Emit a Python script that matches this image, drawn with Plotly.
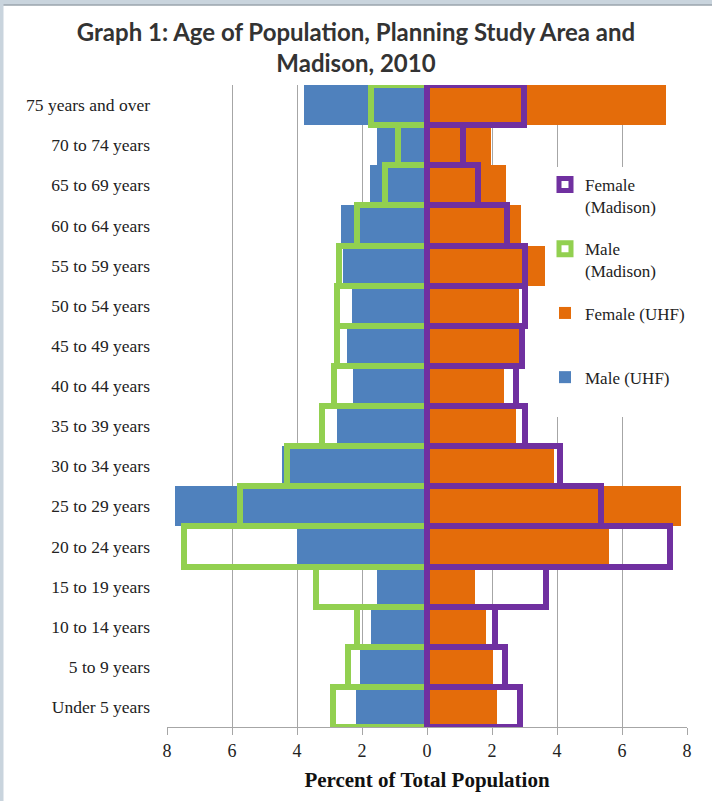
import plotly.graph_objects as go

categories = ["Under 5 years", "5 to 9 years", "10 to 14 years", "15 to 19 years",
              "20 to 24 years", "25 to 29 years", "30 to 34 years", "35 to 39 years",
              "40 to 44 years", "45 to 49 years", "50 to 54 years", "55 to 59 years",
              "60 to 64 years", "65 to 69 years", "70 to 74 years", "75 years and over"]

male_uhf = [2.20, 2.07, 1.72, 1.53, 4.00, 7.75, 4.45, 2.78, 2.27, 2.45, 2.30, 2.60, 2.64, 1.76, 1.53, 3.78]
female_uhf = [2.15, 2.02, 1.83, 1.48, 5.59, 7.80, 3.90, 2.73, 2.38, 2.84, 2.83, 3.85, 2.89, 2.42, 1.96, 7.34]
male_madison = [2.90, 2.43, 2.16, 3.43, 7.47, 5.76, 4.30, 3.22, 2.85, 2.76, 2.78, 2.71, 2.16, 1.28, 0.88, 1.72]
female_madison = [2.87, 2.39, 2.08, 3.67, 7.48, 5.36, 4.09, 3.01, 2.74, 2.92, 3.01, 3.01, 2.45, 1.58, 1.10, 2.99]

tick_vals = [-8, -6, -4, -2, 0, 2, 4, 6, 8]
tick_text = ["8", "6", "4", "2", "0", "2", "4", "6", "8"]

BLUE = "#4F81BD"
ORANGE = "#E46C0A"
GREEN = "#92D050"
PURPLE = "#7030A0"
SERIF = "Liberation Serif"
NBSP = "\u00a0"

fig = go.Figure()
fig.add_trace(go.Bar(y=categories, x=[-v for v in male_uhf], orientation="h",
                     name="Male" + NBSP + "(UHF)<br>" + NBSP, legendgroup="a", legendrank=4,
                     marker=dict(color=BLUE, line=dict(width=0))))
fig.add_trace(go.Bar(y=categories, x=female_uhf, orientation="h",
                     name="Female" + NBSP + "(UHF)<br>" + NBSP, legendgroup="b", legendrank=3,
                     marker=dict(color=ORANGE, line=dict(width=0))))
fig.add_trace(go.Bar(y=categories, x=[-v for v in male_madison], orientation="h",
                     name="Male<br>(Madison)", legendgroup="c", legendrank=2,
                     marker=dict(color="rgba(0,0,0,0)", line=dict(color=GREEN, width=6))))
fig.add_trace(go.Bar(y=categories, x=female_madison, orientation="h",
                     name="Female<br>(Madison)", legendgroup="d", legendrank=1,
                     marker=dict(color="rgba(0,0,0,0)", line=dict(color=PURPLE, width=6))))

L, R, T, B = 167, 25, 85, 74
W, H = 712, 801
pw, ph = W - L - R, H - T - B

def px_x(p):
    return (p - L) / pw

def px_y(p):
    return (H - B - p) / ph

fig.update_layout(
    width=W, height=H,
    margin=dict(l=L, r=R, t=T, b=B),
    barmode="overlay", bargap=0,
    paper_bgcolor="white", plot_bgcolor="white",
    showlegend=True,
    title=dict(text="Graph 1: Age of Population, Planning Study Area and<br>Madison, 2010",
               x=0.5, xref="container", xanchor="center",
               y=1 - 41 / H, yref="container", yanchor="top",
               font=dict(family="Lato", size=24, color="#333333", weight="bold")),
    xaxis=dict(range=[-8, 8], tickvals=tick_vals, ticktext=tick_text,
               showgrid=True, gridcolor="#A6A6A6", gridwidth=1, zeroline=False,
               showline=True, linecolor="#A6A6A6", linewidth=1,
               ticks="outside", ticklen=7, tickcolor="#A6A6A6",
               tickfont=dict(family=SERIF, size=18, color="#222222"),
               title=dict(text="Percent of Total Population", standoff=12,
                          font=dict(family=SERIF, size=21, color="#111111", weight="bold"))),
    yaxis=dict(type="category", categoryorder="array", categoryarray=categories,
               range=[-0.5, 15.5], showgrid=False, zeroline=False, showline=False,
               ticks="", ticklabelstandoff=16,
               tickfont=dict(family=SERIF, size=17.5, color="#222222")),
    legend=dict(x=px_x(545), y=px_y(167), xanchor="left", yanchor="top",
                bgcolor="white", borderwidth=0, traceorder="grouped",
                tracegroupgap=17, valign="top", itemwidth=30,
                font=dict(family=SERIF, size=17, color="#222222")),
    shapes=[
        dict(type="rect", xref="paper", yref="paper", x0=px_x(0), x1=px_x(W), y0=px_y(0), y1=px_y(5),
             fillcolor="#C9D4DD", line=dict(width=0), layer="above"),
        dict(type="line", xref="paper", yref="paper", x0=px_x(0), x1=px_x(W), y0=px_y(5), y1=px_y(5),
             line=dict(color="#9AA4AD", width=1.5), layer="above"),
        dict(type="rect", xref="paper", yref="paper", x0=px_x(0), x1=px_x(3.5), y0=px_y(0), y1=px_y(H),
             fillcolor="#C9D4DD", line=dict(width=0), layer="above"),
    ],
)

fig.write_html("out.html", config={"displayModeBar": False},
               post_script="document.body.style.margin='0px';")
